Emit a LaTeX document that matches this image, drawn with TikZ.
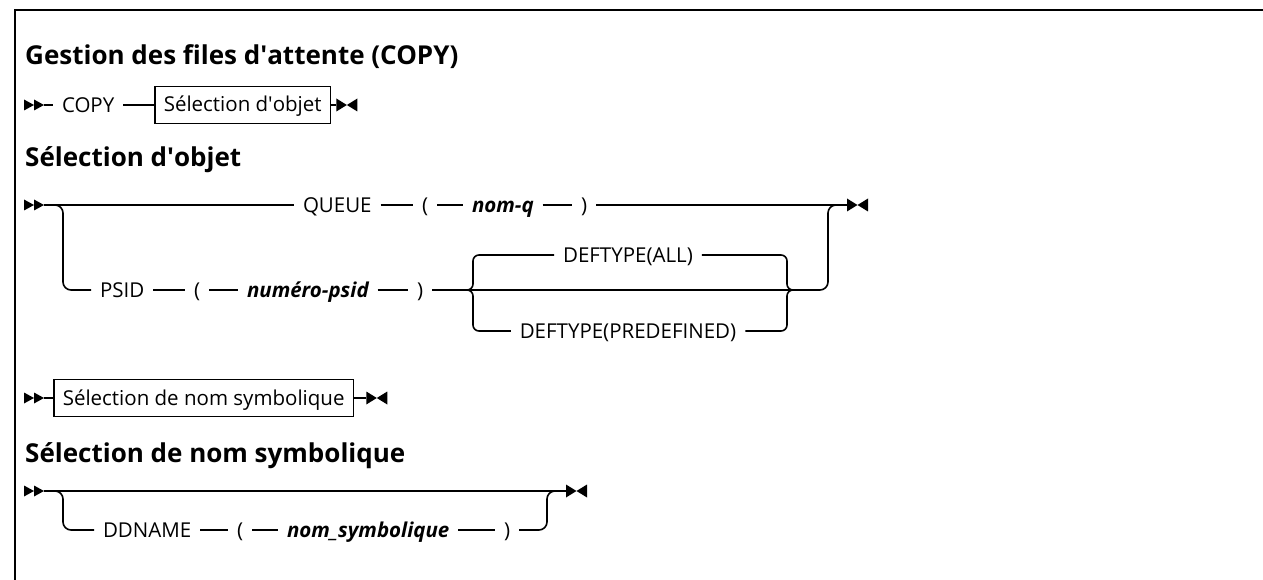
\documentclass[tikz,border=0pt]{standalone}
\usepackage{fontspec}
\setmainfont{Open Sans}
\begin{document}
\begin{tikzpicture}[x=1pt,y=-1pt,
  conn/.style={line width=1.6pt},
  tok/.style={font=\fontsize{20.5}{25}\selectfont, inner sep=0pt, outer xsep=9pt, text height=15pt, text depth=0pt, anchor=west},
  var/.style={tok, font=\fontsize{20.5}{25}\selectfont\bfseries\itshape},
  ttl/.style={font=\fontsize{26}{32}\selectfont\bfseries, inner sep=0pt, anchor=base west},
  refbox/.style={draw, line width=1.5pt, font=\fontsize{20.5}{25}\selectfont, inner xsep=9pt, inner ysep=8pt, text height=17.5pt, text depth=3.5pt, anchor=west},
  startmark/.pic={\fill (-20,-5.5) -- (-10,0) -- (-20,5.5) -- cycle; \fill (-10,-5.5) -- (0,0) -- (-10,5.5) -- cycle;},
  endmark/.pic={\fill (0,-6.5) -- (10.5,0) -- (0,6.5) -- cycle; \fill (21,-6.5) -- (10.5,0) -- (21,6.5) -- cycle;}
]
\useasboundingbox (0,0) rectangle (1263,580);
% frame
\draw[line width=2pt] (1270,10) -- (15,10) -- (15,590);

% titles
\node[ttl] (t1) at (25,65) {Gestion des files d\textquotesingle attente (COPY)};
\node[ttl] (t2) at (25,167) {Sélection d\textquotesingle objet};
\node[ttl] (t3) at (25,462) {Sélection de nom symbolique};

% row 1
\coordinate (s1) at (44,105);
\pic at (s1) {startmark};
\node[tok] (copy) at (53,105) {COPY};
\node[refbox] (sel1) at (154,105) {Sélection d\textquotesingle objet};
\draw[conn] (s1) -- (copy);
\draw[conn] (copy) -- (sel1);
\draw[conn] (sel1.east) -- ++(5,0) coordinate (e1);
\pic at (e1) {endmark};

% row 2
\coordinate (s2) at (44,205);
\pic at (s2) {startmark};
\node[tok] (queue) at (294,205) {QUEUE};
\node[tok] (lpa) at (413,205) {(};
\node[var] (nomq) at (463,205) {nom-q};
\node[tok] (rpa) at (572,205) {)};
\coordinate (e2) at (847,205);
\draw[conn] (s2) -- (queue);
\draw[conn] (queue) -- (lpa);
\draw[conn] (lpa) -- (nomq);
\draw[conn] (nomq) -- (rpa);
\draw[conn] (rpa) -- (e2);
\pic at (e2) {endmark};

\coordinate (b2) at (52,205);
\node[tok] (psid) at (91,290) {PSID};
\node[tok] (lpb) at (185,290) {(};
\node[var] (num) at (238,290) {numéro-psid};
\node[tok] (rpb) at (408,290) {)};
\draw[conn, rounded corners=8pt] (b2) -- (63,205) -- (63,290) -- (psid);
\draw[conn] (psid) -- (lpb);
\draw[conn] (lpb) -- (num);
\draw[conn] (num) -- (rpb);

\coordinate (f2) at (462,290);
\coordinate (j2) at (795,290);
\node[tok, anchor=center] (dall) at (628,255) {DEFTYPE(ALL)};
\node[tok, anchor=center] (dpre) at (628,331) {DEFTYPE(PREDEFINED)};
\draw[conn] (rpb) -- (j2);
\draw[conn, rounded corners=6pt] (f2) -- (473,290) -- (473,255) -- (dall);
\draw[conn, rounded corners=6pt] (f2) -- (473,290) -- (473,331) -- (dpre);
\draw[conn, rounded corners=6pt] (dall) -- (787,255) -- (787,290) -- (j2);
\draw[conn, rounded corners=6pt] (dpre) -- (787,331) -- (787,290) -- (j2);
\draw[conn, rounded corners=8pt] (j2) -- (828,290) -- (828,205) -- (840,205);

% row 3
\coordinate (s3) at (44,398);
\pic at (s3) {startmark};
\node[refbox] (sel3) at (53,398) {Sélection de nom symbolique};
\draw[conn] (s3) -- (sel3);
\draw[conn] (sel3.east) -- ++(12,0) coordinate (e3);
\pic at (e3) {endmark};

% row 4
\coordinate (s4) at (44,491);
\pic at (s4) {startmark};
\coordinate (e4) at (566,491);
\draw[conn] (s4) -- (e4);
\pic at (e4) {endmark};
\coordinate (b4) at (52,491);
\node[tok] (ddn) at (94,530) {DDNAME};
\node[tok] (lpc) at (228,530) {(};
\node[var] (nsym) at (278,530) {nom\_symbolique};
\node[tok] (rpc) at (495,530) {)};
\draw[conn, rounded corners=8pt] (b4) -- (63,491) -- (63,530) -- (ddn);
\draw[conn] (ddn) -- (lpc);
\draw[conn] (lpc) -- (nsym);
\draw[conn] (nsym) -- (rpc);
\draw[conn, rounded corners=8pt] (rpc) -- (547,530) -- (547,491) -- (557,491);
\end{tikzpicture}
\end{document}
